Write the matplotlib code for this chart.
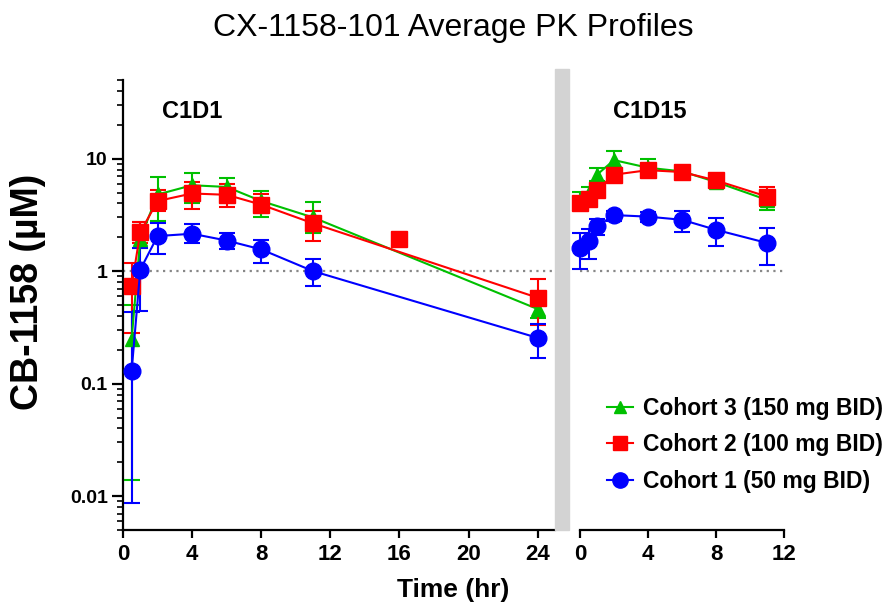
import matplotlib.pyplot as plt
from matplotlib.lines import Line2D
from matplotlib.patches import Rectangle
from matplotlib.ticker import LogLocator, NullFormatter, FixedLocator
import numpy as np

plt.rcParams['font.family'] = ['Liberation Sans', 'DejaVu Sans']

# C1D1 (left panel)
t_d1 = [0.5, 1, 2, 4, 6, 8, 11, 24]
c1_d1 = [0.13, 1.03, 2.05, 2.15, 1.87, 1.56, 1.0, 0.255]
c1_d1_lo = [0.0087, 0.44, 1.41, 1.77, 1.56, 1.18, 0.74, 0.17]
c1_d1_hi = [0.43, 1.6, 2.66, 2.6, 2.2, 1.9, 1.27, 0.34]

c2_d1 = [0.74, 2.22, 4.2, 4.9, 4.77, 3.9, 2.66, 0.58]
c2_d1_lo = [0.28, 1.77, 3.4, 3.6, 3.7, 3.3, 1.87, 0.33]
c2_d1_hi = [1.18, 2.76, 5.3, 6.2, 6.0, 4.8, 3.4, 0.85]
c2_extra_t = [16]
c2_extra = [1.95]

c3_d1 = [0.25, 1.95, 4.8, 5.8, 5.6, 4.2, 3.0, 0.46]
c3_d1_lo = [0.014, 1.6, 2.8, 4.0, 4.0, 3.05, 2.2, 0.38]
c3_d1_hi = [0.5, 2.76, 6.8, 7.5, 6.7, 5.2, 4.1, 0.56]

# C1D15 (right panel)
t_d15 = [0, 0.5, 1, 2, 4, 6, 8, 11]
c1_d15 = [1.6, 1.84, 2.5, 3.15, 3.05, 2.86, 2.33, 1.78]
c1_d15_lo = [1.04, 1.27, 2.1, 2.8, 2.75, 2.25, 1.68, 1.13]
c1_d15_hi = [2.17, 2.35, 2.9, 3.4, 3.35, 3.45, 2.95, 2.4]

c2_d15 = [4.0, 4.4, 5.3, 7.2, 7.9, 7.6, 6.4, 4.6]
c2_d15_lo = [3.5, 3.9, 4.6, 6.4, 7.0, 6.8, 5.7, 3.8]
c2_d15_hi = [4.6, 5.0, 6.0, 8.2, 8.9, 8.5, 7.2, 5.6]

c3_d15 = [4.3, 4.9, 7.2, 9.7, 8.3, 7.7, 6.2, 4.3]
c3_d15_lo = [3.8, 4.3, 6.3, 8.3, 7.2, 6.8, 5.6, 3.5]
c3_d15_hi = [5.1, 5.6, 8.2, 11.7, 10.0, 8.6, 6.9, 5.1]

labels = ['Cohort 3 (150 mg BID)', 'Cohort 2 (100 mg BID)', 'Cohort 1 (50 mg BID)']
colors = ['#00C000', '#FF0000', '#0000FF']
markers = ['^', 's', 'o']
msizes = [10, 11, 12]

W, H = 889, 603
fig = plt.figure(figsize=(W / 100, H / 100), dpi=100)
axL = fig.add_axes([123 / W, 1 - 530 / H, 432 / W, 450 / H])
axR = fig.add_axes([580 / W, 1 - 530 / H, 204 / W, 450 / H])


def draw(ax, t, series):
    for (y, lo, hi), c, m, ms in zip(series, colors, markers, msizes):
        y = np.array(y)
        err = [y - np.array(lo), np.array(hi) - y]
        ax.errorbar(t, y, yerr=err, fmt=m + '-', color=c, ms=ms, lw=1.5,
                    elinewidth=1.5, capsize=6, capthick=1.5, clip_on=False, zorder=3)


axL.axhline(1, color='#888888', ls=(0, (1, 2)), lw=1.6, zorder=1)
axR.axhline(1, color='#888888', ls=(0, (1, 2)), lw=1.6, zorder=1)

draw(axL, t_d1, [(c3_d1, c3_d1_lo, c3_d1_hi), (c2_d1, c2_d1_lo, c2_d1_hi),
                 (c1_d1, c1_d1_lo, c1_d1_hi)])
axL.plot(c2_extra_t, c2_extra, 's', color='#FF0000', ms=11, zorder=3)
draw(axR, t_d15, [(c3_d15, c3_d15_lo, c3_d15_hi), (c2_d15, c2_d15_lo, c2_d15_hi),
                  (c1_d15, c1_d15_lo, c1_d15_hi)])

for ax in (axL, axR):
    ax.set_yscale('log')
    ax.set_ylim(0.005, 50)
    ax.spines['top'].set_visible(False)
    ax.spines['right'].set_visible(False)
    for s in ax.spines.values():
        s.set_linewidth(1.6)
    ax.tick_params(axis='x', length=6, width=1.6, labelsize=16, pad=4)

axL.set_xlim(0, 25)
axL.xaxis.set_major_locator(FixedLocator([0, 4, 8, 12, 16, 20, 24]))
axL.set_xticklabels(['0', '4', '8', '12', '16', '20', '24'], fontweight='bold', fontsize=16)
axL.yaxis.set_major_locator(FixedLocator([0.01, 0.1, 1, 10]))
axL.set_yticklabels(['0.01', '0.1', '1', '10'], fontweight='bold', fontsize=14)
axL.yaxis.set_minor_locator(LogLocator(base=10, subs=np.arange(2, 10)))
axL.yaxis.set_minor_formatter(NullFormatter())
axL.tick_params(axis='y', which='major', length=8, width=1.6, pad=3)
axL.tick_params(axis='y', which='minor', length=4, width=1.2)

axR.set_xlim(0, 12)
axR.xaxis.set_major_locator(FixedLocator([0, 4, 8, 12]))
axR.set_xticklabels(['0', '4', '8', '12'], fontweight='bold', fontsize=16)
axR.spines['left'].set_visible(False)
axR.tick_params(axis='y', which='both', left=False, labelleft=False)

# grey separator between the two periods
fig.patches.append(Rectangle((555 / W, 1 - 530 / H), 14 / W, 461 / H,
                             transform=fig.transFigure, color='#D3D3D3', zorder=5))

fig.text(162 / W, 1 - 112 / H, 'C1D1', fontsize=17, fontweight='bold', va='center')
fig.text(613 / W, 1 - 112 / H, 'C1D15', fontsize=17, fontweight='bold', va='center')
fig.text(453 / W, 1 - 28 / H, 'CX-1158-101 Average PK Profiles', fontsize=23,
         ha='center', va='center')
fig.text(28 / W, 1 - 292 / H, 'CB-1158 (µM)', fontsize=27, fontweight='bold',
         rotation=90, ha='center', va='center')
fig.text(453 / W, 1 - 590 / H, 'Time (hr)', fontsize=19, fontweight='bold',
         ha='center', va='center')

handles = [Line2D([], [], color=c, marker=m, ms=ms - 1, lw=1.5)
           for c, m, ms in zip(colors, markers, msizes)]
fig.legend(handles, labels, loc='center left', bbox_to_anchor=(596 / W, 1 - 445 / H),
           frameon=False, prop={'weight': 'bold', 'size': 16.5},
           handlelength=1.1, handletextpad=0.45, labelspacing=0.6, borderpad=0)

fig.savefig('out.png', dpi=100)
